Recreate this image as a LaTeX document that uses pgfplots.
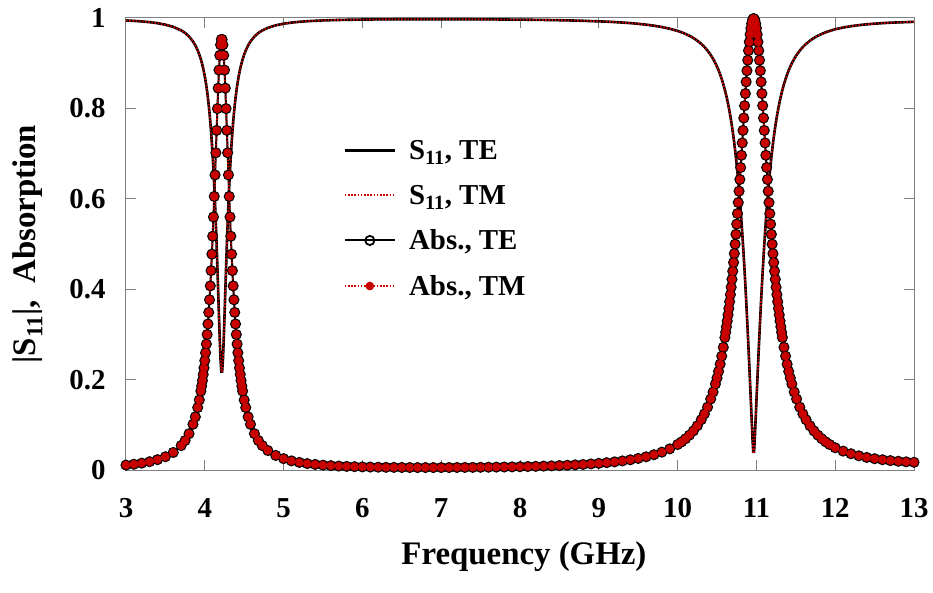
\documentclass[border=0pt]{standalone}
\usepackage{pgfplots}
\pgfplotsset{compat=1.18}
\usepackage{pgfplotstable}
\usepackage{fontspec}
\setmainfont{Liberation Serif}
\definecolor{myred}{RGB}{200,0,0}
\definecolor{axgray}{RGB}{128,128,128}
\pgfplotstableread{
f s a
3.00 0.9945 0.0109
3.10 0.9936 0.0127
3.20 0.9924 0.0152
3.30 0.9908 0.0184
3.40 0.9885 0.0229
3.50 0.9852 0.0293
3.60 0.9804 0.0388
3.70 0.9726 0.0540
3.75 0.9669 0.0652
3.80 0.9590 0.0803
3.85 0.9481 0.1011
3.88 0.9394 0.1176
3.91 0.9284 0.1381
3.93 0.9193 0.1549
3.95 0.9085 0.1746
3.96 0.9024 0.1857
3.97 0.8956 0.1979
3.98 0.8881 0.2113
3.99 0.8798 0.2259
4.00 0.8707 0.2419
4.01 0.8606 0.2594
4.02 0.8494 0.2786
4.03 0.8368 0.2998
4.04 0.8227 0.3231
4.05 0.8071 0.3486
4.06 0.7896 0.3766
4.07 0.7699 0.4073
4.08 0.7476 0.4411
4.09 0.7228 0.4776
4.10 0.6948 0.5172
4.11 0.6635 0.5598
4.12 0.6283 0.6052
4.13 0.5892 0.6528
4.14 0.5461 0.7018
4.15 0.4987 0.7513
4.16 0.4478 0.7995
4.17 0.3940 0.8448
4.18 0.3394 0.8848
4.19 0.2874 0.9174
4.20 0.2437 0.9406
4.21 0.2177 0.9526
4.22 0.2177 0.9526
4.23 0.2437 0.9406
4.24 0.2874 0.9174
4.25 0.3394 0.8848
4.26 0.3940 0.8448
4.27 0.4478 0.7995
4.28 0.4987 0.7513
4.29 0.5461 0.7018
4.30 0.5892 0.6528
4.31 0.6283 0.6052
4.32 0.6635 0.5598
4.33 0.6948 0.5172
4.34 0.7228 0.4776
4.35 0.7476 0.4411
4.36 0.7699 0.4073
4.37 0.7896 0.3766
4.38 0.8071 0.3486
4.39 0.8227 0.3231
4.40 0.8368 0.2998
4.41 0.8494 0.2786
4.42 0.8606 0.2594
4.43 0.8707 0.2419
4.44 0.8798 0.2259
4.45 0.8881 0.2113
4.46 0.8956 0.1979
4.47 0.9024 0.1857
4.48 0.9085 0.1746
4.50 0.9193 0.1549
4.52 0.9284 0.1381
4.55 0.9394 0.1176
4.58 0.9481 0.1011
4.63 0.9590 0.0803
4.68 0.9669 0.0652
4.73 0.9726 0.0540
4.80 0.9782 0.0431
4.90 0.9838 0.0322
5.00 0.9874 0.0251
5.10 0.9898 0.0202
5.20 0.9916 0.0168
5.30 0.9929 0.0142
5.40 0.9938 0.0123
5.50 0.9946 0.0108
5.60 0.9952 0.0096
5.70 0.9956 0.0087
5.80 0.9960 0.0080
5.90 0.9963 0.0074
6.00 0.9966 0.0069
6.10 0.9967 0.0065
6.20 0.9969 0.0062
6.30 0.9970 0.0059
6.40 0.9971 0.0058
6.50 0.9972 0.0056
6.60 0.9972 0.0055
6.70 0.9973 0.0054
6.80 0.9973 0.0054
6.90 0.9973 0.0054
7.00 0.9973 0.0054
7.10 0.9972 0.0055
7.20 0.9972 0.0056
7.30 0.9972 0.0057
7.40 0.9971 0.0058
7.50 0.9970 0.0060
7.60 0.9969 0.0062
7.70 0.9968 0.0064
7.80 0.9967 0.0066
7.90 0.9965 0.0069
8.00 0.9964 0.0073
8.10 0.9962 0.0077
8.20 0.9959 0.0081
8.30 0.9957 0.0086
8.40 0.9954 0.0092
8.50 0.9951 0.0098
8.60 0.9947 0.0105
8.70 0.9943 0.0114
8.80 0.9938 0.0123
8.90 0.9932 0.0135
9.00 0.9926 0.0147
9.10 0.9919 0.0162
9.20 0.9910 0.0180
9.30 0.9899 0.0201
9.40 0.9887 0.0226
9.50 0.9871 0.0256
9.60 0.9853 0.0292
9.70 0.9830 0.0338
9.80 0.9800 0.0395
9.90 0.9762 0.0468
10.00 0.9714 0.0564
10.05 0.9684 0.0622
10.10 0.9648 0.0691
10.15 0.9607 0.0771
10.20 0.9558 0.0865
10.25 0.9498 0.0978
10.30 0.9428 0.1112
10.34 0.9359 0.1241
10.38 0.9278 0.1391
10.42 0.9182 0.1570
10.45 0.9097 0.1725
10.48 0.8998 0.1903
10.50 0.8924 0.2036
10.52 0.8843 0.2181
10.54 0.8751 0.2342
10.56 0.8649 0.2519
10.58 0.8536 0.2714
10.60 0.8408 0.2930
10.61 0.8339 0.3046
10.62 0.8265 0.3169
10.63 0.8187 0.3297
10.64 0.8104 0.3432
10.65 0.8016 0.3574
10.66 0.7922 0.3724
10.67 0.7823 0.3880
10.68 0.7717 0.4045
10.69 0.7603 0.4219
10.70 0.7484 0.4399
10.71 0.7355 0.4591
10.72 0.7219 0.4788
10.73 0.7073 0.4997
10.74 0.6918 0.5214
10.75 0.6753 0.5440
10.76 0.6577 0.5674
10.77 0.6390 0.5917
10.78 0.6190 0.6169
10.79 0.5977 0.6427
10.80 0.5751 0.6692
10.81 0.5512 0.6962
10.82 0.5257 0.7236
10.83 0.4988 0.7512
10.84 0.4704 0.7787
10.85 0.4405 0.8060
10.86 0.4089 0.8328
10.87 0.3759 0.8587
10.88 0.3415 0.8834
10.89 0.3056 0.9066
10.90 0.2685 0.9279
10.91 0.2302 0.9470
10.92 0.1908 0.9636
10.93 0.1510 0.9772
10.94 0.1109 0.9877
10.95 0.0714 0.9949
10.96 0.0400 0.9984
10.97 0.0400 0.9984
10.98 0.0714 0.9949
10.99 0.1109 0.9877
11.00 0.1510 0.9772
11.01 0.1908 0.9636
11.02 0.2302 0.9470
11.03 0.2685 0.9279
11.04 0.3056 0.9066
11.05 0.3415 0.8834
11.06 0.3759 0.8587
11.07 0.4089 0.8328
11.08 0.4405 0.8060
11.09 0.4704 0.7787
11.10 0.4988 0.7512
11.11 0.5257 0.7236
11.12 0.5512 0.6962
11.13 0.5751 0.6692
11.14 0.5977 0.6427
11.15 0.6190 0.6169
11.16 0.6390 0.5917
11.17 0.6577 0.5674
11.18 0.6753 0.5440
11.19 0.6918 0.5214
11.20 0.7073 0.4997
11.21 0.7219 0.4788
11.22 0.7355 0.4591
11.23 0.7484 0.4399
11.24 0.7603 0.4219
11.25 0.7717 0.4045
11.26 0.7823 0.3880
11.27 0.7922 0.3724
11.28 0.8016 0.3574
11.29 0.8104 0.3432
11.30 0.8187 0.3297
11.31 0.8265 0.3169
11.32 0.8339 0.3046
11.33 0.8408 0.2930
11.35 0.8536 0.2714
11.37 0.8649 0.2519
11.39 0.8751 0.2342
11.41 0.8843 0.2181
11.43 0.8924 0.2036
11.45 0.8998 0.1903
11.48 0.9097 0.1725
11.51 0.9182 0.1570
11.55 0.9278 0.1391
11.59 0.9359 0.1241
11.63 0.9428 0.1112
11.68 0.9498 0.0978
11.73 0.9558 0.0865
11.78 0.9607 0.0771
11.83 0.9648 0.0691
11.88 0.9684 0.0622
11.93 0.9714 0.0564
12.00 0.9751 0.0492
12.10 0.9789 0.0418
12.20 0.9818 0.0360
12.30 0.9842 0.0314
12.40 0.9860 0.0278
12.50 0.9874 0.0250
12.60 0.9886 0.0227
12.70 0.9896 0.0208
12.80 0.9903 0.0193
12.90 0.9909 0.0181
13.00 0.9915 0.0170
}\datatab
\begin{document}
\begin{tikzpicture}
\begin{axis}[
  scale only axis,
  width=788bp, height=452bp,
  xmin=3, xmax=13, ymin=0, ymax=1,
  xtick={3,4,...,13},
  ytick={0,0.2,0.4,0.6,0.8,1},
  clip=false,
  axis line style={axgray, line width=1bp},
  tick style={axgray, line width=1bp},
  major tick length=10bp,
  tick align=inside,
  /pgf/number format/assume math mode=true,
  tick label style={font=\fontsize{29}{34}\selectfont\bfseries},
  xticklabel style={yshift=-25bp},
  yticklabel style={xshift=-17bp},
  xlabel={Frequency (GHz)},
  ylabel={|S\textsubscript{11}|,\ \ Absorption},
  label style={font=\fontsize{33}{40}\selectfont\bfseries},
  xlabel style={at={(axis description cs:0.505,-0.1925)}, anchor=center},
  ylabel style={at={(axis description cs:-0.1244,0.5)}, anchor=center},
  legend image code/.code={\draw[mark repeat=2,mark phase=2,#1] plot coordinates {(0bp,0bp) (25bp,0bp) (50bp,0bp)};},
  legend style={draw=none, fill=none, at={(axis description cs:0.272,0.745)}, anchor=north west,
    font=\fontsize{29}{34}\selectfont\bfseries, row sep=14bp,
    nodes={inner sep=5bp}},
  legend cell align=left,
]
\addplot[black, line width=2.6bp, no marks] table[x=f,y=s] {\datatab};
\addlegendentry{\hspace{8bp}S\textsubscript{11}, TE}
\addplot[myred, line width=1.8bp, dash pattern=on 1.6bp off 1.6bp, no marks] table[x=f,y=s] {\datatab};
\addlegendentry{\hspace{8bp}S\textsubscript{11}, TM}
\addplot[black, line width=2bp, mark=o, mark size=4.6bp, mark options={solid, line width=1.8bp, draw=black}] table[x=f,y=a] {\datatab};
\addlegendentry{\hspace{8bp}Abs., TE}
\addplot[myred, line width=1.8bp, dash pattern=on 1.6bp off 1.6bp, mark=*, mark size=3.7bp, mark options={solid, line width=1.2bp, draw=myred, fill=myred}] table[x=f,y=a] {\datatab};
\addlegendentry{\hspace{8bp}Abs., TM}
\end{axis}
\pgfresetboundingbox
\path[use as bounding box] ([shift={(-126bp,-123bp)}]current axis.south west) rectangle ([shift={(19bp,18bp)}]current axis.north east);
\end{tikzpicture}
\end{document}
